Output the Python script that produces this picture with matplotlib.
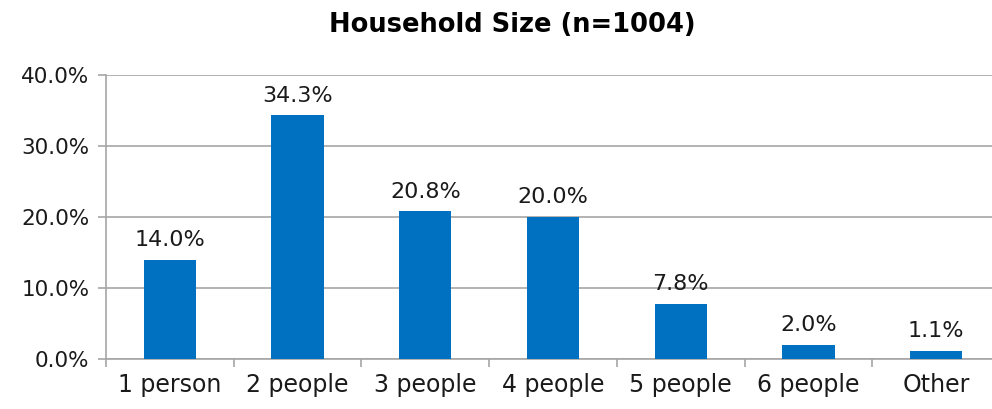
import matplotlib.pyplot as plt
from matplotlib.ticker import PercentFormatter, FixedLocator

categories = ['1 person', '2 people', '3 people', '4 people', '5 people', '6 people', 'Other']
values = [14.0, 34.3, 20.8, 20.0, 7.8, 2.0, 1.1]
labels = ['14.0%', '34.3%', '20.8%', '20.0%', '7.8%', '2.0%', '1.1%']
title = 'Household Size (n=1004)'

plt.rcParams['font.family'] = ['DejaVu Sans']

fig = plt.figure(figsize=(9.92, 4.09), dpi=100)
ax = fig.add_axes([106 / 992, 50 / 409, 894 / 992, 284 / 409])

x = range(len(categories))
bars = ax.bar(x, values, width=0.41, color='#0070C0', zorder=3)
for b, lab in zip(bars, labels):
    ax.annotate(lab, (b.get_x() + b.get_width() / 2, b.get_height()),
                xytext=(0, 7), textcoords='offset points',
                ha='center', va='bottom', fontsize=16, color='#1a1a1a')

ax.set_xlim(-0.5, len(categories) - 0.5)
ax.set_ylim(0, 40)
ax.set_yticks([0, 10, 20, 30, 40])
ax.yaxis.set_major_formatter(PercentFormatter(decimals=1))
ax.grid(axis='y', color='#A6A6A6', linewidth=1.2, zorder=0)

ax.set_xticks(list(x))
ax.set_xticklabels(categories, fontsize=17, color='#1a1a1a')
ax.xaxis.set_minor_locator(FixedLocator([i - 0.5 for i in range(len(categories) + 1)]))
ax.tick_params(axis='x', which='major', length=0, pad=10)
ax.tick_params(axis='x', which='minor', length=6, color='#A6A6A6', width=1.2)
ax.tick_params(axis='y', length=6, color='#A6A6A6', width=1.2, labelsize=15.5,
               labelcolor='#1a1a1a', pad=6)

for s in ['top', 'right']:
    ax.spines[s].set_visible(False)
for s in ['left', 'bottom']:
    ax.spines[s].set_color('#A6A6A6')
    ax.spines[s].set_linewidth(1.2)

fig.text(512 / 992, 1 - 25 / 409, title, ha='center', va='center',
         fontsize=18.5, fontweight='bold', color='black')

fig.savefig('out.png', dpi=100)
